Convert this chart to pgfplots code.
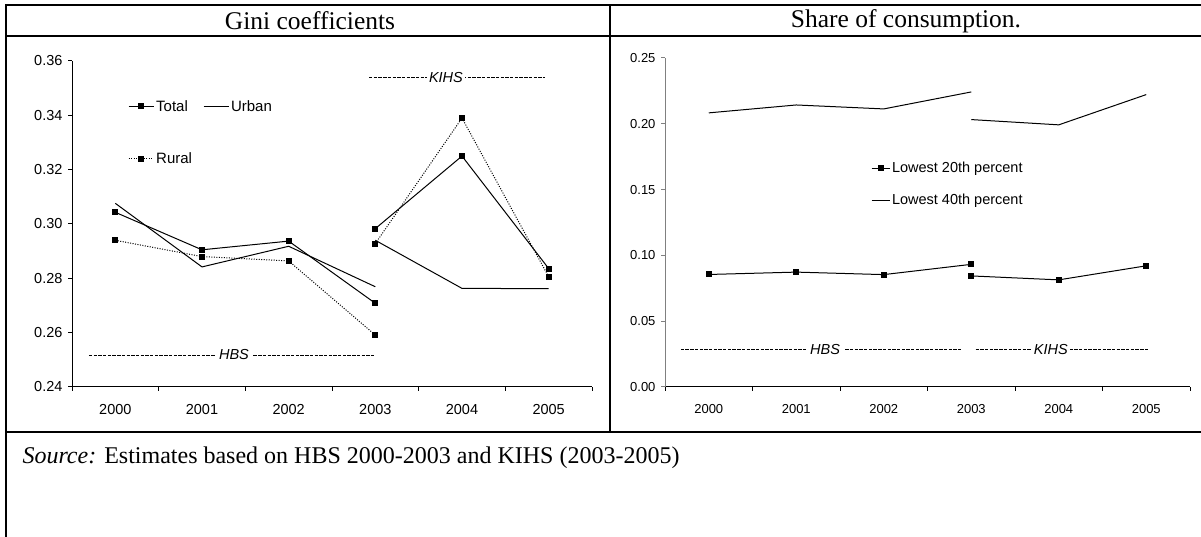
\documentclass[border=0pt]{standalone}
\usepackage{pgfplots}
\pgfplotsset{compat=1.18}
\usepackage{fontspec}
\setmainfont{Liberation Serif}
\newfontfamily\arial{Liberation Sans}
\begin{document}
\begin{tikzpicture}[x=1pt,y=1pt]
\useasboundingbox (0,0) rectangle (1201,537);
% frame
\draw[line width=2.5pt] (6,0) -- (6,532) -- (1201,532);
\draw[line width=2.5pt] (6,501) -- (1201,501);
\draw[line width=2.5pt] (6,105) -- (1201,105);
\draw[line width=2.5pt] (610,532) -- (610,105);
\node[font=\fontsize{25.5}{25.5}\selectfont] at (310,516) {Gini coefficients};
\node[font=\fontsize{25.5}{25.5}\selectfont] at (906,516) {Share of consumption.};
\node[anchor=base west, font=\fontsize{24}{24}\selectfont] at (19,73) {\textit{Source:} Estimates based on HBS 2000-2003 and KIHS (2003-2005)};

\pgfplotsset{
  mystyle/.style={
    scale only axis,
    axis lines*=left,
    xmin=-0.5, xmax=5.5,
    xtick={0,1,2,3,4,5},
    xticklabels={2000,2001,2002,2003,2004,2005},
    minor xtick={-0.5,0.5,1.5,2.5,3.5,4.5,5.5},
    major x tick style={draw=none},
    tick align=outside,
    major tick length=4pt, minor tick length=4pt,
    tick style={line width=1pt, black},
    axis line style={line width=1pt},
    /pgf/number format/assume math mode=true,
    /pgf/number format/fixed,
    /pgf/number format/fixed zerofill,
    /pgf/number format/precision=2,
    xticklabel style={yshift=-10pt},
    yticklabel style={xshift=-2pt},
    legend cell align=left,
    unbounded coords=jump,
  },
  legline/.style={legend image code/.code={
    \draw[mark repeat=2,mark phase=2,##1] plot coordinates {(0pt,0pt) (#1/2,0pt) (#1,0pt)};}},
}

% ---------- Left panel ----------
\begin{axis}[mystyle,
  at={(72pt,150pt)}, anchor=south west,
  width=520pt, height=326pt,
  ymin=0.24, ymax=0.36,
  ytick={0.24,0.26,0.28,0.30,0.32,0.34,0.36},
  tick label style={font=\arial\fontsize{14.5}{14.5}\selectfont},
  legend columns=2,
  legline=25pt,
  legend style={draw=none, fill=none, inner sep=0pt, at={(0.1077,0.8865)}, anchor=north west,
    font=\arial\fontsize{15}{15}\selectfont,
    /tikz/every even column/.append style={column sep=9pt},
    row sep=36pt},
]
\draw[line width=0.8pt, dash pattern=on 3.4pt off 1.3pt] (axis cs:-0.304,0.2518) -- (axis cs:2.985,0.2518);
\node[fill=white, inner xsep=4pt, inner ysep=1pt, font=\arial\itshape\fontsize{14.5}{14.5}\selectfont] at (axis cs:1.369,0.2518) {HBS};
\draw[line width=0.8pt, dash pattern=on 3.4pt off 1.3pt] (axis cs:2.927,0.3541) -- (axis cs:4.958,0.3541);
\node[fill=white, inner xsep=2pt, inner ysep=1pt, font=\arial\itshape\fontsize{14.5}{14.5}\selectfont] at (axis cs:3.815,0.3541) {KIHS};

\addplot[black, line width=1pt, mark=square*, mark size=2.5pt] coordinates {
(0,0.3043) (1,0.2905) (2,0.2937) (3,0.2708) (3,nan) (3,0.2983) (4,0.3250) (5,0.2836)};
\addlegendentry{Total}
\addplot[black, line width=1pt] coordinates {
(0,0.3076) (1,0.2842) (2,0.2918) (3,0.2769) (3,nan) (3,0.2940) (4,0.2763) (5,0.2762)};
\addlegendentry{Urban}
\addplot[black, line width=1pt, dash pattern=on 1pt off 1.5pt, mark=square*, mark size=2.5pt, mark options={solid}] coordinates {
(0,0.2940) (1,0.2880) (2,0.2864) (3,0.2591) (3,nan) (3,0.2928) (4,0.3390) (5,0.2806)};
\addlegendentry{Rural}
\end{axis}

% ---------- Right panel ----------
\begin{axis}[mystyle,
  at={(665pt,150pt)}, anchor=south west,
  width=525pt, height=329pt,
  ymin=0, ymax=0.25,
  ytick={0,0.05,0.10,0.15,0.20,0.25},
  tick label style={font=\arial\fontsize{13}{13}\selectfont},
  y axis line style={draw=gray},
  ytick style={draw=gray},
  legline=18pt,
  legend style={draw=none, fill=none, inner sep=0pt, at={(0.392,0.69)}, anchor=north west,
    font=\arial\fontsize{14.5}{14.5}\selectfont, row sep=16pt},
]
\draw[line width=0.8pt, dash pattern=on 3.4pt off 1.3pt] (axis cs:-0.32,0.0283) -- (axis cs:2.89,0.0283);
\node[fill=white, inner xsep=4pt, inner ysep=1pt, font=\arial\itshape\fontsize{14.5}{14.5}\selectfont] at (axis cs:1.33,0.0283) {HBS};
\draw[line width=0.8pt, dash pattern=on 3.4pt off 1.3pt] (axis cs:3.05,0.0283) -- (axis cs:5.03,0.0283);
\node[fill=white, inner xsep=2pt, inner ysep=1pt, font=\arial\itshape\fontsize{14.5}{14.5}\selectfont] at (axis cs:3.91,0.0283) {KIHS};

\addplot[black, line width=1pt, mark=square*, mark size=2.5pt] coordinates {
(0,0.0855) (1,0.0873) (2,0.0854) (3,0.0932) (3,nan) (3,0.0844) (4,0.0814) (5,0.0921)};
\addlegendentry{Lowest 20th percent}
\addplot[black, line width=1pt] coordinates {
(0,0.2083) (1,0.2143) (2,0.2113) (3,0.2242) (3,nan) (3,0.2032) (4,0.1992) (5,0.2222)};
\addlegendentry{Lowest 40th percent}
\end{axis}
\end{tikzpicture}
\end{document}
